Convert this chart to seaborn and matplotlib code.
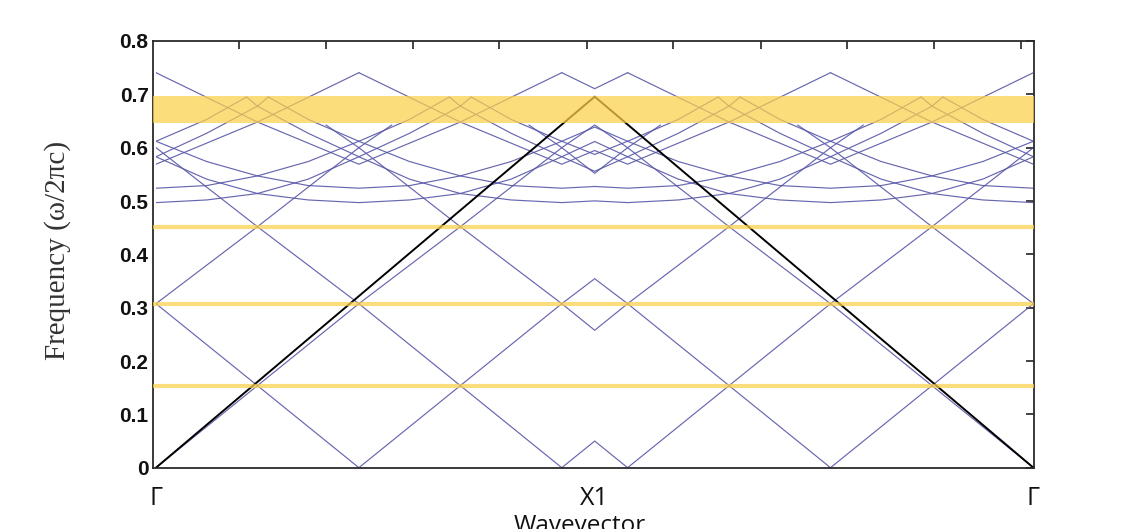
import numpy as np
import matplotlib
matplotlib.use("Agg")
import matplotlib.pyplot as plt
import seaborn as sns
from matplotlib.patches import Rectangle

sns.set_theme(style="white")
plt.rcParams["font.family"] = ["Liberation Sans", "DejaVu Sans"]

# k path: Gamma (0) -> X1 (1) -> Gamma (2); second leg is the mirror of the first
path_ticks = [0.0, 1.0, 2.0]
path_labels = ["Γ", "X1", "Γ"]
minor_k = [0.19, 0.3875, 0.585, 0.7826, 0.9818, 1.1792, 1.3784, 1.5758, 1.7741, 1.9717]

# light line (black)
light_k = [0.0, 1.0, 2.0]
light_f = [0.0, 0.6956, 0.0]

# the folded bands repeat along Gamma-X1 around these k values
fold_centres = [-0.4625, 0.0, 0.4625, 0.925, 1.3875, 1.85]

# straight folded lines: k offset from centre / frequency
cone_dk = [-1.0, -0.925, -0.694, -0.4625, -0.231, 0.0, 0.231, 0.4625, 0.694, 0.925, 1.0]
cone_f = [0.6425, 0.600, 0.452, 0.3075, 0.1537, 0.0, 0.1537, 0.3075, 0.452, 0.600, 0.6425]

# lower curved band (min ~0.497)
arc1_dk = [-0.7185, -0.694, -0.578, -0.4625, -0.347, -0.231, -0.116, 0.0,
           0.116, 0.231, 0.347, 0.4625, 0.578, 0.694, 0.7185]
arc1_f = [0.695, 0.678, 0.627, 0.583, 0.541, 0.514, 0.502, 0.497,
          0.502, 0.514, 0.541, 0.583, 0.627, 0.678, 0.695]

# second curved band (min ~0.524)
arc2_dk = [-0.669, -0.578, -0.4625, -0.347, -0.231, -0.116, 0.0,
           0.116, 0.231, 0.347, 0.4625, 0.578, 0.669]
arc2_f = [0.695, 0.653, 0.612, 0.574, 0.547, 0.529, 0.524,
          0.529, 0.547, 0.574, 0.612, 0.653, 0.695]

# top zig-zag band (0.569 .. 0.741)
top_dk = [-0.4625, -0.231, 0.0, 0.231, 0.4625]
top_f = [0.7406, 0.648, 0.569, 0.648, 0.7406]

# band gaps
gap_lo, gap_hi = 0.647, 0.697
gap_lines = [0.1537, 0.3075, 0.452]

freq_ticks = [0.0, 0.1, 0.2, 0.3, 0.4, 0.5, 0.6, 0.7, 0.8]
freq_labels = ["0", "0.1", "0.2", "0.3", "0.4", "0.5", "0.6", "0.7", "0.8"]

blue = "#5656A8"
yellow = "#FCD04A"

fig = plt.figure(figsize=(11.26, 5.29), dpi=100)
ax = fig.add_axes([0.1356, 0.1159, 0.7830, 0.8066])

for dk, fr in [(cone_dk, cone_f), (arc1_dk, arc1_f), (arc2_dk, arc2_f), (top_dk, top_f)]:
    for c in fold_centres:
        k_left = np.add(c, dk)
        for lo, k in ((0.0, k_left), (1.0, 2.0 - k_left)):
            sns.lineplot(x=k, y=fr, ax=ax, color=blue, lw=0.85, alpha=0.9, sort=False,
                         estimator=None, legend=False)
            ax.lines[-1].set_clip_path(Rectangle((lo, -1.0), 1.0, 3.0, transform=ax.transData))

sns.lineplot(x=light_k, y=light_f, ax=ax, color="black", lw=1.4, sort=False,
             estimator=None, legend=False)

ax.axhspan(gap_lo, gap_hi, color=yellow, alpha=0.72, lw=0, zorder=3)
for g in gap_lines:
    ax.axhline(g, color=yellow, alpha=0.72, lw=3, zorder=3)

ax.set_xlim(-0.0075, 2.0021)
ax.set_ylim(0, 0.8)
ax.set_yticks(freq_ticks, freq_labels)
ax.set_xticks(path_ticks, path_labels)
ax.set_xticks(minor_k, minor=True)
ax.tick_params(which="both", direction="in", top=True, right=True, width=1.2, color="#222222")
ax.tick_params(axis="x", which="major", length=0, pad=13.5, labelsize=18, labelcolor="#111111")
ax.tick_params(axis="x", which="minor", length=6)
ax.tick_params(axis="y", which="major", length=6, labelsize=15, pad=3, labelcolor="#111111")
for lab in ax.get_yticklabels():
    lab.set_fontweight("bold")
for lab in ax.get_xticklabels():
    lab.set_fontfamily(["Open Sans", "DejaVu Sans"])
for s in ax.spines.values():
    s.set_color("#2a2a2a")
    s.set_linewidth(1.3)

ax.set_xlabel("Wavevector", fontsize=17.5, fontfamily=["Open Sans", "DejaVu Sans"], color="#111111")
ax.xaxis.set_label_coords(0.4847, -0.108)
ax.xaxis.label.set_va("top")
ax.set_ylabel("Frequency (ω/2πc)", fontsize=21,
              fontfamily=["Liberation Serif", "DejaVu Serif"], color="#333333")
ax.yaxis.set_label_coords(-0.108, 0.51)
ax.yaxis.label.set_va("center")

fig.savefig("out.png", dpi=100)
